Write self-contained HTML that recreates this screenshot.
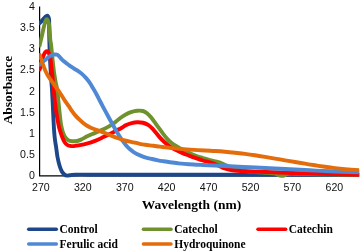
<!DOCTYPE html>
<html><head><meta charset="utf-8"><style>
html,body{margin:0;padding:0;background:#fff;}
body{width:360px;height:251px;overflow:hidden;}
svg{display:block;will-change:transform;}
</style></head><body>
<svg width="360" height="251" viewBox="0 0 360 251">
<rect width="360" height="251" fill="#fff"/>
<path d="M39.6,6.5 V175.9 H359" fill="none" stroke="#000" stroke-width="1.2"/>
<defs><clipPath id="pc"><rect x="39.1" y="0" width="320.1" height="190"/></clipPath></defs>
<g fill="none" stroke-width="3.9" stroke-linejoin="round" stroke-linecap="round" clip-path="url(#pc)">
<path d="M39.60,23.30 C40.00,22.85 41.20,21.52 42.00,20.60 C42.80,19.68 43.68,18.53 44.40,17.80 C45.12,17.07 45.77,16.53 46.30,16.20 C46.83,15.87 47.23,15.63 47.60,15.80 C47.97,15.97 48.25,16.50 48.50,17.20 C48.75,17.90 48.98,18.70 49.10,20.00 C49.22,21.30 49.18,22.83 49.20,25.00 C49.22,27.17 49.17,30.17 49.20,33.00 C49.23,35.83 49.32,38.83 49.40,42.00 C49.48,45.17 49.55,48.17 49.70,52.00 C49.85,55.83 50.03,60.33 50.30,65.00 C50.57,69.67 51.02,75.83 51.30,80.00 C51.58,84.17 51.75,85.83 52.00,90.00 C52.25,94.17 52.55,100.00 52.80,105.00 C53.05,110.00 53.27,115.50 53.50,120.00 C53.73,124.50 53.95,128.67 54.20,132.00 C54.45,135.33 54.68,137.50 55.00,140.00 C55.32,142.50 55.68,144.17 56.10,147.00 C56.52,149.83 56.93,153.92 57.50,157.00 C58.07,160.08 58.80,163.13 59.50,165.50 C60.20,167.87 60.87,169.68 61.70,171.20 C62.53,172.72 63.57,173.87 64.50,174.60 C65.43,175.33 66.38,175.50 67.30,175.60 C68.22,175.70 68.72,175.35 70.00,175.20 C71.28,175.05 70.00,174.78 75.00,174.70 C80.00,174.62 87.50,174.70 100.00,174.70 C112.50,174.70 133.33,174.68 150.00,174.70 C166.67,174.72 183.33,174.78 200.00,174.80 C216.67,174.82 233.33,174.80 250.00,174.80 C266.67,174.80 281.83,174.80 300.00,174.80 C318.17,174.80 349.17,174.80 359.00,174.80" stroke="#1e478a"/>
<path d="M39.60,45.50 C39.92,44.17 40.85,40.33 41.50,37.50 C42.15,34.67 42.88,31.08 43.50,28.50 C44.12,25.92 44.70,23.53 45.20,22.00 C45.70,20.47 46.07,19.55 46.50,19.30 C46.93,19.05 47.35,19.48 47.80,20.50 C48.25,21.52 48.85,23.32 49.20,25.40 C49.55,27.48 49.72,30.57 49.90,33.00 C50.08,35.43 50.10,38.00 50.30,40.00 C50.50,42.00 50.72,41.67 51.10,45.00 C51.48,48.33 52.12,55.50 52.60,60.00 C53.08,64.50 53.50,68.33 54.00,72.00 C54.50,75.67 55.07,79.00 55.60,82.00 C56.13,85.00 56.67,86.17 57.20,90.00 C57.73,93.83 58.27,100.00 58.80,105.00 C59.33,110.00 59.95,116.33 60.40,120.00 C60.85,123.67 61.02,124.75 61.50,127.00 C61.98,129.25 62.72,131.87 63.30,133.52 C63.88,135.18 64.30,135.93 65.00,136.93 C65.70,137.93 66.67,138.90 67.50,139.54 C68.33,140.18 68.65,140.51 70.00,140.79 C71.35,141.07 73.75,141.40 75.60,141.20 C77.45,141.00 79.25,140.37 81.10,139.60 C82.95,138.83 84.83,137.53 86.70,136.60 C88.57,135.67 90.43,134.81 92.30,134.00 C94.17,133.19 96.05,132.51 97.90,131.71 C99.75,130.91 101.55,130.07 103.40,129.18 C105.25,128.29 107.13,127.45 109.00,126.36 C110.87,125.27 112.72,124.02 114.60,122.63 C116.48,121.24 118.37,119.41 120.30,118.00 C122.23,116.59 124.30,115.20 126.20,114.17 C128.10,113.14 129.85,112.42 131.70,111.84 C133.55,111.26 135.43,110.85 137.30,110.71 C139.17,110.57 141.28,110.58 142.90,111.00 C144.52,111.42 145.65,112.15 147.00,113.20 C148.35,114.25 149.67,115.73 151.00,117.30 C152.33,118.87 153.67,120.78 155.00,122.60 C156.33,124.42 157.67,126.37 159.00,128.20 C160.33,130.03 161.67,131.87 163.00,133.60 C164.33,135.33 165.67,137.10 167.00,138.60 C168.33,140.10 169.50,141.37 171.00,142.60 C172.50,143.83 174.17,144.87 176.00,146.00 C177.83,147.13 179.83,148.27 182.00,149.40 C184.17,150.53 186.68,151.73 189.00,152.80 C191.32,153.87 193.58,154.93 195.90,155.80 C198.22,156.67 200.57,157.28 202.90,158.00 C205.23,158.72 207.60,159.48 209.90,160.10 C212.20,160.72 214.47,161.05 216.70,161.70 C218.93,162.35 220.75,162.95 223.30,164.00 C225.85,165.05 228.88,166.92 232.00,168.00 C235.12,169.08 238.17,169.83 242.00,170.50 C245.83,171.17 250.67,171.62 255.00,172.00 C259.33,172.38 264.75,172.57 268.00,172.80 C271.25,173.03 272.83,173.03 274.50,173.40 C276.17,173.77 276.83,174.58 278.00,175.00 C279.17,175.42 280.42,175.82 281.50,175.90 C282.58,175.98 283.42,175.85 284.50,175.50 C285.58,175.15 285.42,174.08 288.00,173.80 C290.58,173.52 293.00,173.70 300.00,173.80 C307.00,173.90 320.17,174.23 330.00,174.40 C339.83,174.57 354.17,174.73 359.00,174.80" stroke="#6f922f"/>
<path d="M39.60,69.50 C39.77,69.00 40.23,67.83 40.60,66.50 C40.97,65.17 41.40,63.08 41.80,61.50 C42.20,59.92 42.58,58.28 43.00,57.00 C43.42,55.72 43.87,54.63 44.30,53.80 C44.73,52.97 45.17,52.42 45.60,52.00 C46.03,51.58 46.45,51.30 46.90,51.30 C47.35,51.30 47.87,51.47 48.30,52.00 C48.73,52.53 49.15,53.50 49.50,54.50 C49.85,55.50 50.12,56.25 50.40,58.00 C50.68,59.75 50.88,62.17 51.20,65.00 C51.52,67.83 51.92,71.17 52.30,75.00 C52.68,78.83 53.08,83.83 53.50,88.00 C53.92,92.17 54.38,96.33 54.80,100.00 C55.22,103.67 55.53,106.67 56.00,110.00 C56.47,113.33 57.10,117.17 57.60,120.00 C58.10,122.83 58.52,124.99 59.00,127.00 C59.48,129.01 59.95,130.34 60.50,132.06 C61.05,133.78 61.63,135.62 62.30,137.29 C62.97,138.96 63.72,140.83 64.50,142.07 C65.28,143.31 66.08,144.11 67.00,144.75 C67.92,145.39 68.83,145.68 70.00,145.90 C71.17,146.12 72.67,146.18 74.00,146.10 C75.33,146.02 75.88,145.82 78.00,145.40 C80.12,144.98 83.85,144.35 86.70,143.60 C89.55,142.85 92.32,141.99 95.10,140.90 C97.88,139.81 100.85,138.30 103.40,137.09 C105.95,135.88 108.30,134.72 110.40,133.67 C112.50,132.61 114.30,131.63 116.00,130.76 C117.70,129.89 118.90,129.40 120.60,128.45 C122.30,127.49 124.35,125.94 126.20,125.03 C128.05,124.12 129.85,123.49 131.70,123.02 C133.55,122.55 135.43,122.26 137.30,122.21 C139.17,122.16 141.03,122.26 142.90,122.74 C144.77,123.22 146.87,124.07 148.50,125.10 C150.13,126.13 151.45,127.62 152.70,128.90 C153.95,130.18 154.78,131.35 156.00,132.80 C157.22,134.25 158.65,136.10 160.00,137.60 C161.35,139.10 162.62,140.43 164.10,141.80 C165.58,143.17 167.08,144.50 168.90,145.80 C170.72,147.10 172.82,148.42 175.00,149.60 C177.18,150.78 179.67,151.90 182.00,152.90 C184.33,153.90 186.68,154.73 189.00,155.60 C191.32,156.47 193.58,157.28 195.90,158.10 C198.22,158.92 200.57,159.80 202.90,160.50 C205.23,161.20 207.72,161.63 209.90,162.30 C212.08,162.97 213.82,163.58 216.00,164.50 C218.18,165.42 220.50,166.88 223.00,167.80 C225.50,168.72 227.83,169.45 231.00,170.00 C234.17,170.55 238.33,170.82 242.00,171.10 C245.67,171.38 250.00,171.58 253.00,171.70 C256.00,171.82 255.50,171.67 260.00,171.80 C264.50,171.93 273.33,172.27 280.00,172.50 C286.67,172.73 291.67,172.93 300.00,173.20 C308.33,173.47 320.17,173.83 330.00,174.10 C339.83,174.37 354.17,174.68 359.00,174.80" stroke="#ff0000"/>
<path d="M39.60,64.60 C40.00,64.22 41.00,63.10 42.00,62.30 C43.00,61.50 44.60,60.62 45.60,59.80 C46.60,58.98 47.10,58.13 48.00,57.40 C48.90,56.67 50.00,55.88 51.00,55.40 C52.00,54.92 53.00,54.62 54.00,54.50 C55.00,54.38 56.25,54.50 57.00,54.70 C57.75,54.90 58.00,55.28 58.50,55.70 C59.00,56.12 59.42,56.55 60.00,57.20 C60.58,57.85 61.00,58.65 62.00,59.60 C63.00,60.55 64.68,61.85 66.00,62.90 C67.32,63.95 68.58,64.97 69.90,65.90 C71.22,66.83 72.57,67.67 73.90,68.50 C75.23,69.33 76.57,70.00 77.90,70.90 C79.23,71.80 80.57,72.73 81.90,73.90 C83.23,75.07 84.58,76.42 85.90,77.90 C87.22,79.38 88.65,81.15 89.80,82.80 C90.95,84.45 91.68,85.90 92.80,87.80 C93.92,89.70 95.30,92.00 96.50,94.20 C97.70,96.40 98.87,98.82 100.00,101.00 C101.13,103.18 101.88,104.63 103.30,107.30 C104.72,109.97 106.80,113.88 108.50,117.00 C110.20,120.12 111.92,123.20 113.50,126.00 C115.08,128.80 116.58,131.47 118.00,133.80 C119.42,136.13 120.67,138.08 122.00,140.00 C123.33,141.92 124.67,143.75 126.00,145.30 C127.33,146.85 128.67,148.13 130.00,149.30 C131.33,150.47 132.33,151.28 134.00,152.30 C135.67,153.32 138.00,154.52 140.00,155.40 C142.00,156.28 144.00,157.00 146.00,157.60 C148.00,158.20 150.00,158.55 152.00,159.00 C154.00,159.45 156.17,159.93 158.00,160.30 C159.83,160.67 161.00,160.87 163.00,161.20 C165.00,161.53 167.50,161.95 170.00,162.30 C172.50,162.65 174.83,162.97 178.00,163.30 C181.17,163.63 184.83,164.02 189.00,164.30 C193.17,164.58 198.67,164.80 203.00,165.00 C207.33,165.20 210.50,165.28 215.00,165.50 C219.50,165.72 224.17,166.00 230.00,166.30 C235.83,166.60 243.33,166.97 250.00,167.30 C256.67,167.63 263.33,167.98 270.00,168.30 C276.67,168.62 283.33,168.87 290.00,169.20 C296.67,169.53 303.33,169.97 310.00,170.30 C316.67,170.63 321.83,170.87 330.00,171.20 C338.17,171.53 354.17,172.12 359.00,172.30" stroke="#4f89d6"/>
<path d="M39.80,55.00 C40.08,55.92 40.88,58.67 41.50,60.50 C42.12,62.33 42.83,64.25 43.50,66.00 C44.17,67.75 44.78,69.42 45.50,71.00 C46.22,72.58 46.97,74.08 47.80,75.50 C48.63,76.92 49.55,78.17 50.50,79.50 C51.45,80.83 52.42,81.98 53.50,83.50 C54.58,85.02 55.75,86.77 57.00,88.60 C58.25,90.43 59.67,92.47 61.00,94.50 C62.33,96.53 63.70,98.85 65.00,100.80 C66.30,102.75 67.63,104.47 68.80,106.20 C69.97,107.93 70.88,109.63 72.00,111.20 C73.12,112.77 74.25,114.18 75.50,115.60 C76.75,117.02 78.17,118.42 79.50,119.70 C80.83,120.98 82.17,122.25 83.50,123.30 C84.83,124.35 86.08,125.17 87.50,126.00 C88.92,126.83 90.27,127.57 92.00,128.30 C93.73,129.03 95.77,129.62 97.90,130.40 C100.03,131.18 102.48,132.08 104.80,133.00 C107.12,133.92 109.48,134.98 111.80,135.90 C114.12,136.82 116.50,137.73 118.70,138.50 C120.90,139.27 122.78,139.90 125.00,140.50 C127.22,141.10 129.53,141.55 132.00,142.10 C134.47,142.65 137.63,143.37 139.80,143.80 C141.97,144.23 143.30,144.43 145.00,144.70 C146.70,144.97 148.33,145.18 150.00,145.40 C151.67,145.62 153.33,145.80 155.00,146.00 C156.67,146.20 158.33,146.38 160.00,146.60 C161.67,146.82 163.33,147.08 165.00,147.30 C166.67,147.52 168.33,147.72 170.00,147.90 C171.67,148.08 173.00,148.22 175.00,148.40 C177.00,148.58 179.50,148.80 182.00,149.00 C184.50,149.20 186.17,149.35 190.00,149.60 C193.83,149.85 200.83,150.27 205.00,150.50 C209.17,150.73 211.67,150.80 215.00,151.00 C218.33,151.20 221.67,151.42 225.00,151.70 C228.33,151.98 231.67,152.33 235.00,152.70 C238.33,153.07 241.67,153.47 245.00,153.90 C248.33,154.33 251.67,154.80 255.00,155.30 C258.33,155.80 261.67,156.35 265.00,156.90 C268.33,157.45 271.67,158.03 275.00,158.60 C278.33,159.17 281.67,159.73 285.00,160.30 C288.33,160.87 291.67,161.43 295.00,162.00 C298.33,162.57 301.67,163.15 305.00,163.70 C308.33,164.25 311.67,164.78 315.00,165.30 C318.33,165.82 321.67,166.33 325.00,166.80 C328.33,167.27 331.67,167.72 335.00,168.10 C338.33,168.48 341.00,168.75 345.00,169.10 C349.00,169.45 356.67,170.02 359.00,170.20" stroke="#e46c0a"/>
</g>
<g font-family="Liberation Sans, sans-serif" font-size="10.6" fill="#111" text-anchor="end">
<text x="34.8" y="179.30">0</text>
<text x="34.8" y="158.14">0.5</text>
<text x="34.8" y="136.97">1</text>
<text x="34.8" y="115.80">1.5</text>
<text x="34.8" y="94.64">2</text>
<text x="34.8" y="73.48">2.5</text>
<text x="34.8" y="52.31">3</text>
<text x="34.8" y="31.14">3.5</text>
<text x="34.8" y="9.98">4</text>
</g>
<g font-family="Liberation Sans, sans-serif" font-size="10.6" fill="#111" text-anchor="middle">
<text x="40.90" y="190.7">270</text>
<text x="82.82" y="190.7">320</text>
<text x="124.74" y="190.7">370</text>
<text x="166.66" y="190.7">420</text>
<text x="208.58" y="190.7">470</text>
<text x="250.50" y="190.7">520</text>
<text x="292.42" y="190.7">570</text>
<text x="334.34" y="190.7">620</text>
</g>
<g font-family="Liberation Serif, serif" font-weight="bold" font-size="13.2" fill="#000">
<text x="141.8" y="209.2" font-size="13.5">Wavelength (nm)</text>
<text transform="translate(11.9,124.3) rotate(-90)" font-size="13.4">Absorbance</text>
</g>
<g stroke-width="3.5" stroke-linecap="round">
<line x1="28.7" y1="229.2" x2="56.3" y2="229.2" stroke="#1e478a"/><line x1="143.4" y1="229.2" x2="171.0" y2="229.2" stroke="#6f922f"/><line x1="258.0" y1="229.3" x2="285.6" y2="229.3" stroke="#ff0000"/><line x1="28.7" y1="243.9" x2="56.3" y2="243.9" stroke="#4f89d6"/><line x1="143.4" y1="243.9" x2="171.0" y2="243.9" stroke="#e46c0a"/></g>
<g font-family="Liberation Serif, serif" font-weight="bold" font-size="11.5" fill="#000">
<text x="59.5" y="233.1">Control</text>
<text x="174.2" y="233.1">Catechol</text>
<text x="288.8" y="233.2">Catechin</text>
<text x="59.5" y="247.8">Ferulic acid</text>
<text x="174.2" y="247.8">Hydroquinone</text></g>
</svg>
</body></html>
